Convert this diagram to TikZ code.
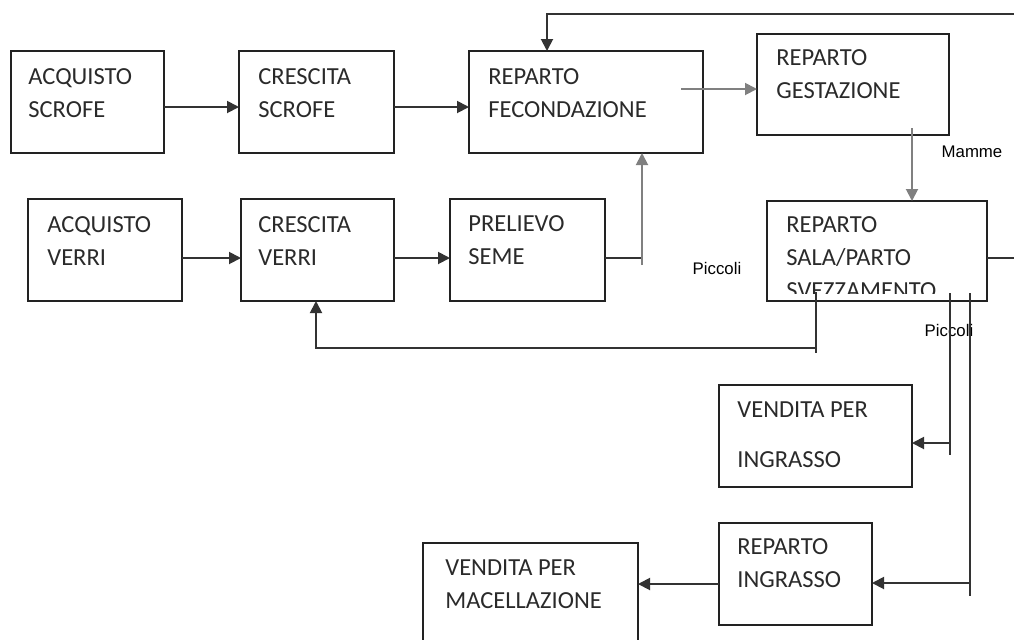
\documentclass[tikz,border=0pt]{standalone}
\usepackage{fontspec}
\setmainfont{Carlito}
\newfontfamily\labfont{Liberation Sans}
\usetikzlibrary{arrows.meta,calc}
\definecolor{ink}{HTML}{2A2A2A}
\definecolor{edge}{HTML}{222222}
\definecolor{wire}{HTML}{333333}
\definecolor{wiregray}{HTML}{808080}
\newcommand\mkbox[5]{\node[box, minimum width=#4*0.5pt, minimum height=#5*0.5pt] (#1) at (#2,#3) {};}
\begin{document}
\begin{tikzpicture}[x=0.5pt,y=-0.5pt,
  box/.style={draw=edge, line width=1pt, inner sep=0pt, outer sep=0pt, anchor=north west},
  txt/.style={font=\fontsize{12.25}{16.5}\selectfont, text=ink, anchor=base west, align=left, inner sep=0pt},
  lab/.style={font=\labfont\fontsize{8.4}{10}\selectfont, text=black, inner sep=0pt},
  wire/.style={draw=wire, line width=0.95pt},
  gwire/.style={draw=wiregray, line width=0.95pt},
  arr/.style={wire, -{Triangle[length=6pt,width=6pt]}},
  garr/.style={gwire, -{Triangle[length=6pt,width=6pt]}}]
\useasboundingbox (0,0) rectangle (1014,639);
\clip (0,0) rectangle (1014,639);
% boxes
\mkbox{aqs}{11}{51}{153}{102}
\mkbox{crs}{239}{51}{155}{102}
\mkbox{fec}{469}{51}{234}{102}
\mkbox{ges}{757}{34}{192}{101}
\mkbox{aqv}{28}{199}{154}{102}
\mkbox{crv}{241}{199}{153}{102}
\mkbox{pre}{450}{199}{155}{102}
\mkbox{sal}{767}{201}{220}{100}
\mkbox{vdi}{719}{385}{193}{102}
\mkbox{rin}{719}{523}{153}{102}
\mkbox{vdm}{423}{543}{215}{115}
% texts (anchor = baseline of last line)
\node[txt] (aqs-t) at (28,117) {ACQUISTO\\SCROFE};
\node[txt] (crs-t) at (258,117) {CRESCITA\\SCROFE};
\node[txt] (fec-t) at (488,117) {REPARTO\\FECONDAZIONE};
\node[txt] (ges-t) at (776,98) {REPARTO\\GESTAZIONE};
\node[txt] (aqv-t) at (47,265) {ACQUISTO\\VERRI};
\node[txt] (crv-t) at (258,265) {CRESCITA\\VERRI};
\node[txt] (pre-t) at (468,264) {PRELIEVO\\SEME};
\begin{scope}
\clip (767,201) rectangle (987,293);
\node[txt] (sal-t) at (786,298) {REPARTO\\SALA/PARTO\\SVEZZAMENTO};
\end{scope}
\node[txt] (vdi-t) at (737,467) {VENDITA PER\\[8.5pt]INGRASSO};
\node[txt] (rin-t) at (737,587) {REPARTO\\INGRASSO};
\node[txt] (vdm-t) at (445,608) {VENDITA PER\\MACELLAZIONE};
% labels
\node[lab] (mamme) at (972,152) {Mamme};
\node[lab] (picc1) at (717,268) {Piccoli};
\node[lab] (picc2) at (949,330) {Piccoli};
% coordinates
\coordinate (j1) at (642,258);
\coordinate (r1) at (1014,258);
\coordinate (r2) at (1014,14);
\coordinate (t1) at (547,14);
\coordinate (g1) at (912,128);
\coordinate (s1) at (816,292);
\coordinate (b1) at (816,348);
\coordinate (b2) at (316,348);
\coordinate (v1) at (950,293);
\coordinate (v2) at (970,293);
\coordinate (a1) at (950,443);
\coordinate (a2) at (970,583);
\coordinate (a3) at ($(rin.west)+(0,10)$);
% connectors
\draw[arr] ($(aqs.east)+(0,5)$) -- ($(crs.west)+(0,5)$);
\draw[arr] ($(crs.east)+(0,5)$) -- ($(fec.west)+(0,5)$);
\draw[arr] ($(aqv.east)+(0,8)$) -- ($(crv.west)+(0,8)$);
\draw[arr] ($(crv.east)+(0,8)$) -- ($(pre.west)+(0,8)$);
\draw[garr] ($(fec.east)+(-22,-13)$) -- ($(ges.west)+(0,4.5)$);
\draw[wire] ($(pre.east)+(0,8)$) -- (j1);
\draw[garr] ($(j1)+(0,7)$) -- (j1 |- fec.south);
\draw[wire] ($(sal.east)+(0,7)$) -- (r1);
\draw[arr] (r2) -- (t1) -- (t1 |- fec.north);
\draw[garr] (g1) -- (g1 |- sal.north);
\draw[wire] (s1) -- ($(b1)+(0,5)$);
\draw[arr] (b1) -- (b2) -- (b2 |- crv.south);
\draw[wire] (v1) -- ($(v1)+(0,162)$);
\draw[wire] (v2) -- ($(v2)+(0,303)$);
\draw[arr] (a1) -- (a1 -| vdi.east);
\draw[arr] (a2) -- (a2 -| rin.east);
\draw[arr] (a3) -- (a3 -| vdm.east);
\end{tikzpicture}
\end{document}
